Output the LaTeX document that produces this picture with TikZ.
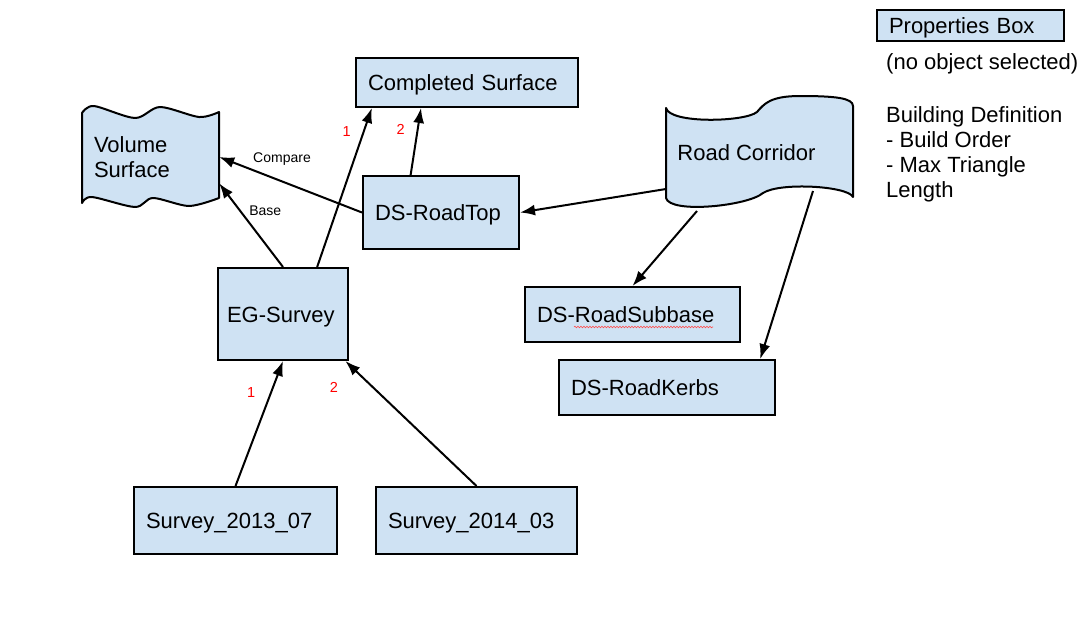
\documentclass[tikz,border=0pt]{standalone}
\usepackage{fontspec}
\setmainfont{Liberation Sans}
\usetikzlibrary{positioning,arrows.meta,decorations.pathmorphing}
\definecolor{boxblue}{HTML}{CFE2F3}
\tikzset{block/.style={draw, fill=boxblue, line width=2pt, font=\fontsize{22}{25}\selectfont, align=left, inner xsep=12pt, inner ysep=0pt, text height=16pt, text depth=0pt, text width=#1},
	note/.style={font=\fontsize{22}{25}\selectfont, align=left, inner sep=0pt},
	wavy/.style={draw, fill=boxblue, line width=2pt, line join=round},
	tag/.style={font=\fontsize{14}{16}\selectfont, inner sep=3pt},
	num/.style={font=\fontsize{14.5}{16}\selectfont, text=red, inner sep=3pt},
	link/.style={draw, line width=2pt, -{Latex[length=15pt,width=11pt]}}}

\begin{document}
\begin{tikzpicture}[x=1pt, y=-1pt]
				\path[fill=white, use as bounding box] (0,0) rectangle (1088,630);

				% the two surfaces drawn as free shapes
				\path[wavy] plot[smooth] coordinates {(82,113) (94,106) (135,118) (160,107) (199,117) (219,112)}
					-- plot[smooth] coordinates {(219,198) (189,206) (153,198) (135,207) (92,197) (82,203)} -- cycle;
				\path[wavy] (666,108) .. controls (670,124) and (745,122) .. (757,112)
					.. controls (764,104) and (770,96) .. (800,96)
					.. controls (835,96) and (853,98) .. (853,106) -- (853,197)
					.. controls (848,186) and (780,182) .. (763,193)
					.. controls (748,206) and (670,214) .. (666,198) -- cycle;

				\node[note, text width=113pt, inner xsep=12pt, minimum height=90pt] (vol) at (150.5,157) {Volume\\Surface};
				\node[note] (rc) at (746.5,153) {Road Corridor};
				\coordinate (rcl) at (666,189);
				\coordinate (rcb) at (697,211);
				\coordinate (rcr) at (813,191);

				\node[block=198pt, minimum height=49pt] (cs) at (467,82.5) {Completed Surface};
				\node[block=132pt, minimum height=73pt] (rt) at (441,212.5) {DS-RoadTop};
				\node[block=112pt, inner xsep=9pt, minimum height=92pt] (eg) at (283,314) {EG-Survey};
				\node[block=179pt, minimum height=67pt] (s1) at (235.5,520.5) {Survey\_2013\_07};
				\node[block=177pt, minimum height=67pt] (s2) at (476.5,520.5) {Survey\_2014\_03};
				\node[block=191pt, minimum height=55pt] (sub) at (632.5,314.5) {DS-RoadSubbase};
				\node[block=192pt, minimum height=55pt] (kb) at (667,387.5) {DS-RoadKerbs};
				\node[block=163pt, minimum height=31pt] (pb) at (970.5,25.5) {Properties Box};

				\node[note, anchor=west] (nos) at (886,63.5) {(no object selected)};
				\node[note, anchor=west] (bd) at (886,154.5) {Building Definition\\- Build Order\\- Max Triangle\\Length};

				\draw[red!70, line width=0.6pt, decorate, decoration={snake, amplitude=0.8pt, segment length=3pt}] (574,327) -- (713,327);

				\path[link] (eg.north) -- node[tag, pos=0.67, right=5pt] {Base} (vol.-21);
				\path[link] (rt.west) -- node[tag, pos=0.56, above=12pt] {Compare} (vol.east);
				\path[link] (eg.54) -- node[num, pos=0.85, left=9pt] {1} (cs.-165.5);
				\path[link] (rt.129.4) -- node[num, pos=0.68, left=9pt] {2} (cs.-151.4);
				\path[link] (s1.north) -- node[num, pos=0.75, left=12pt] {1} (eg.south);
				\path[link] (s2.north) -- node[num, pos=0.79, left=31pt] {2} (eg.-37.5);
				\path[link] (rcl) -- (rt.east);
				\path[link] (rcb) -- (sub.north);
				\path[link] (rcr) -- (kb.17.7);
			\end{tikzpicture}
\end{document}
